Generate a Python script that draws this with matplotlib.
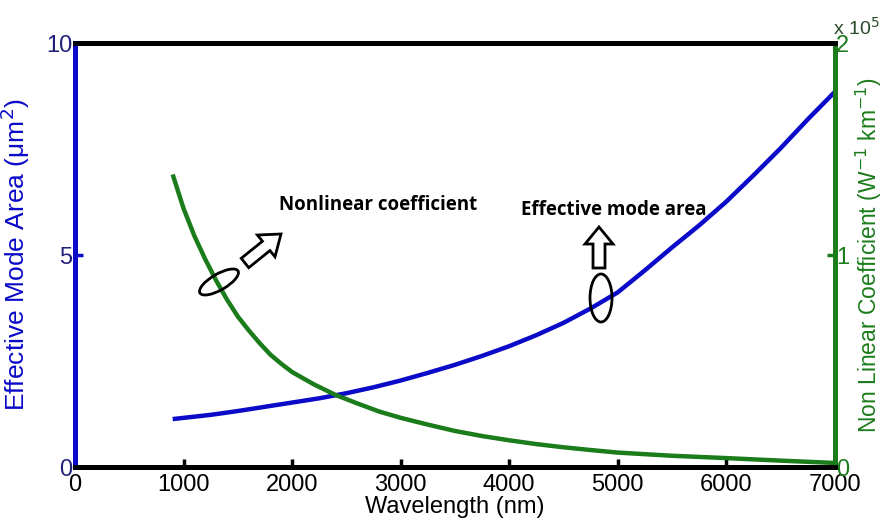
import numpy as np
import matplotlib.pyplot as plt
from matplotlib.patches import Ellipse, FancyArrow

plt.rcParams['font.family'] = ['Liberation Sans', 'DejaVu Sans']

# wavelength samples (nm)
wl_area = [900, 1250, 1500, 1750, 2000, 2250, 2500, 2750, 3000, 3250, 3500,
           3750, 4000, 4250, 4500, 4750, 5000, 5250, 5500, 5750, 6000, 6250,
           6500, 6750, 7000]
# effective mode area (um^2)
aeff = [1.13, 1.23, 1.32, 1.42, 1.52, 1.62, 1.74, 1.88, 2.04, 2.22, 2.41,
        2.62, 2.85, 3.11, 3.40, 3.74, 4.12, 4.64, 5.18, 5.70, 6.26, 6.88,
        7.52, 8.2, 8.85]

wl_gamma = [900, 1000, 1100, 1200, 1300, 1400, 1500, 1600, 1700, 1800, 1900,
            2000, 2200, 2400, 2600, 2800, 3000, 3250, 3500, 3750, 4000, 4250,
            4500, 4750, 5000, 5500, 6000, 6500, 7000]
# nonlinear coefficient (x 1e5 W^-1 km^-1)
gamma = [1.38, 1.22, 1.09, 0.98, 0.88, 0.79, 0.71, 0.645, 0.585, 0.53, 0.487,
         0.448, 0.39, 0.34, 0.30, 0.262, 0.232, 0.20, 0.17, 0.146, 0.126, 0.108,
         0.093, 0.08, 0.068, 0.053, 0.042, 0.03, 0.019]

blue = '#0a0ac8'
green = '#1b7c1b'

fig = plt.figure(figsize=(8.84, 5.29), dpi=100)
ax = fig.add_axes([0.0848, 0.1172, 0.8597, 0.8015])
ax2 = ax.twinx()

ax.plot(wl_area, aeff, color=blue, lw=3.2, solid_capstyle='butt')
ax2.plot(wl_gamma, gamma, color=green, lw=3.2, solid_capstyle='butt')

ax.set_xlim(0, 7000)
ax.set_ylim(0, 10)
ax2.set_ylim(0, 2)
ax.set_xticks(range(0, 7001, 1000))
ax.set_yticks([0, 5, 10])
ax2.set_yticks([0, 1, 2])
ax2.set_yticklabels(['0', '1', '2'])

for a in (ax, ax2):
    for s in a.spines.values():
        s.set_linewidth(3.5)
    a.spines['top'].set_color('black')
    a.spines['bottom'].set_color('black')
    a.spines['left'].set_color(blue)
    a.spines['right'].set_color(green)

ax.tick_params(axis='x', direction='in', length=6, width=2.5, colors='black',
               labelsize=17, pad=5)
ax.tick_params(axis='y', direction='in', length=6, width=2.5, color=blue,
               labelcolor='#20207a', labelsize=17, pad=2)
ax2.tick_params(axis='y', direction='in', length=6, width=2.5, color=green,
                labelcolor=green, labelsize=17, pad=1)

ax.set_xlabel('Wavelength (nm)', fontsize=17, labelpad=0)
ax.set_ylabel('Effective Mode Area (\u03bcm$^2$)', fontsize=19, color=blue,
              labelpad=10)
ax2.set_ylabel('Non Linear Coefficient (W$^{-1}$ km$^{-1}$)', fontsize=16.5,
               color=green, labelpad=3)
fig.text(0.942, 0.935, 'x 10$^5$', fontsize=14, color='#2a4a2a')

# annotations
ax.text(0.268, 0.606, 'Nonlinear coefficient', transform=ax.transAxes,
        fontsize=13.5, fontweight='bold', family='Open Sans', va='baseline')
ax.text(0.587, 0.594, 'Effective mode area', transform=ax.transAxes,
        fontsize=13.5, fontweight='bold', family='Open Sans', va='baseline')

tr = fig.dpi_scale_trans
fig.patches.append(Ellipse((2.19, 2.47), 0.44, 0.16, angle=30, fill=False,
                           ec='black', lw=2, transform=tr))
fig.patches.append(Ellipse((6.01, 2.31), 0.22, 0.48, fill=False,
                           ec='black', lw=2, transform=tr))
fig.patches.append(FancyArrow(2.45, 2.66, 0.36, 0.29, width=0.12,
                              head_width=0.28, head_length=0.19,
                              length_includes_head=True, fc='white',
                              ec='black', lw=2, transform=tr))
fig.patches.append(FancyArrow(5.99, 2.61, 0, 0.41, width=0.12,
                              head_width=0.28, head_length=0.17,
                              length_includes_head=True, fc='white',
                              ec='black', lw=2, transform=tr))

fig.savefig('out.png', dpi=100)
